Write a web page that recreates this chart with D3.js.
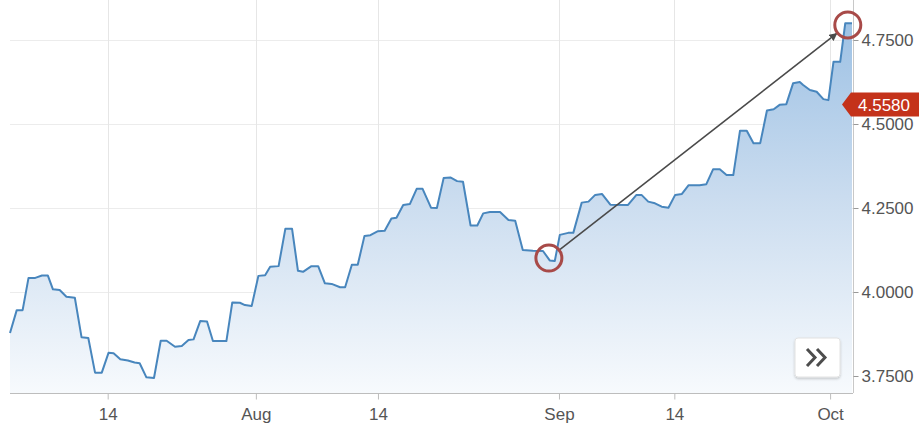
<!DOCTYPE html>
<html>
<head>
<meta charset="utf-8">
<script src="https://cdnjs.cloudflare.com/ajax/libs/d3/7.8.5/d3.min.js"></script>
<style>
body { margin: 0; background: #ffffff; }
svg { display: block; font-family: "Liberation Sans", Arial, sans-serif; }
</style>
</head>
<body>
<div id="chart"></div>
<script>
// session position along the x axis (0 = first point, 100 = last point)
var sessions = [0.0, 0.8, 1.5, 2.2, 3.0, 3.8, 4.5, 5.1, 5.9, 6.7, 7.7, 8.5, 9.3, 10.1, 10.9, 11.7, 12.3, 13.1, 14.0, 14.8,
    15.4, 16.2, 17.1, 17.9, 18.6, 19.6, 20.4, 21.2, 21.8, 22.6, 23.4, 24.1, 25.7, 26.4, 27.3, 27.9, 28.7, 29.5, 30.3, 30.9,
    31.9, 32.7, 33.5, 34.2, 34.8, 35.8, 36.6, 37.4, 38.2, 39.2, 39.8, 40.6, 41.3, 42.1, 42.8, 43.7, 44.5, 45.3, 45.9, 46.7,
    47.5, 48.3, 49.0, 50.0, 50.7, 51.5, 52.3, 53.1, 53.8, 54.7, 55.5, 56.2, 57.0, 58.2, 59.2, 60.0, 60.9, 62.1, 63.3, 64.1,
    64.7, 65.3, 66.3, 66.9, 67.9, 68.7, 69.5, 70.3, 71.3, 73.4, 74.4, 75.0, 75.8, 76.6, 77.4, 78.2, 79.0, 79.8, 80.6, 81.9,
    82.7, 83.5, 84.3, 85.1, 85.9, 86.7, 87.5, 88.3, 89.1, 89.9, 90.7, 91.4, 92.2, 93.0, 93.8, 94.2, 95.0, 95.8, 96.6, 97.2,
    97.8, 98.6, 99.2, 100.0];
var prices = [3.878, 3.946, 3.946, 4.042, 4.042, 4.049, 4.049, 4.008, 4.006, 3.986, 3.983, 3.865, 3.863, 3.760, 3.760, 3.819, 3.818, 3.800, 3.796, 3.790,
    3.788, 3.746, 3.744, 3.855, 3.855, 3.837, 3.839, 3.857, 3.859, 3.914, 3.912, 3.854, 3.854, 3.969, 3.968, 3.961, 3.958, 4.048, 4.050, 4.075,
    4.077, 4.188, 4.188, 4.063, 4.060, 4.077, 4.077, 4.026, 4.024, 4.014, 4.014, 4.081, 4.081, 4.167, 4.169, 4.181, 4.182, 4.219, 4.221, 4.259,
    4.262, 4.307, 4.307, 4.251, 4.250, 4.339, 4.341, 4.330, 4.328, 4.198, 4.198, 4.234, 4.238, 4.238, 4.214, 4.212, 4.125, 4.123, 4.122, 4.094,
    4.092, 4.170, 4.176, 4.176, 4.266, 4.269, 4.289, 4.292, 4.260, 4.259, 4.289, 4.289, 4.269, 4.264, 4.254, 4.251, 4.289, 4.292, 4.318, 4.318,
    4.321, 4.365, 4.365, 4.348, 4.348, 4.480, 4.480, 4.443, 4.443, 4.540, 4.544, 4.557, 4.559, 4.621, 4.625, 4.616, 4.601, 4.596, 4.574, 4.571,
    4.685, 4.685, 4.800, 4.800];

var tickSessions = [11.6, 29.2, 43.7, 65.2, 78.9, 97.4];
var tickLabels = ["14", "Aug", "14", "Sep", "14", "Oct"];
var priceTicks = [3.75, 4.0, 4.25, 4.5, 4.75];
var lastPrice = 4.558;
// the two circled points joined by the arrow
var markSessions = [64.0, 99.5];
var markPrices = [4.101, 4.795];

var W = 919, H = 423;
var plotLeft = 10, plotRight = 853, plotTop = 0, plotBottom = 393;

var data = sessions.map(function(s, i) { return { s: s, p: prices[i] }; });

var x = d3.scaleLinear().domain([0, 100]).range([plotLeft, plotRight - 1]);
var y = d3.scaleLinear().domain([3.75, 4.75]).range([376, 40]);

var svg = d3.select("#chart").append("svg")
    .attr("width", W)
    .attr("height", H);

var defs = svg.append("defs");

var grad = defs.append("linearGradient")
    .attr("id", "fillGrad")
    .attr("gradientUnits", "userSpaceOnUse")
    .attr("x1", 0).attr("y1", plotTop)
    .attr("x2", 0).attr("y2", plotBottom);
grad.append("stop").attr("offset", "0%").attr("stop-color", "#98bee3");
grad.append("stop").attr("offset", "50%").attr("stop-color", "#cadcef");
grad.append("stop").attr("offset", "100%").attr("stop-color", "#f7fafd");

defs.append("marker")
    .attr("id", "arrowHead")
    .attr("viewBox", "0 0 10 10")
    .attr("refX", 9).attr("refY", 5)
    .attr("markerWidth", 8).attr("markerHeight", 8)
    .attr("markerUnits", "userSpaceOnUse")
    .attr("orient", "auto")
    .append("path")
    .attr("d", "M0,0 L10,5 L0,10 z")
    .attr("fill", "#4a4a4a");

var shadow = defs.append("filter").attr("id", "btnShadow")
    .attr("x", "-20%").attr("y", "-20%").attr("width", "140%").attr("height", "150%");
shadow.append("feDropShadow")
    .attr("dx", 0).attr("dy", 1.5).attr("stdDeviation", 1.2)
    .attr("flood-color", "#000").attr("flood-opacity", 0.2);

// grid lines
svg.append("g").selectAll("line")
    .data(priceTicks.slice(1))
    .enter().append("line")
    .attr("x1", plotLeft).attr("x2", plotRight)
    .attr("y1", function(d) { return Math.round(y(d)) + 0.5; })
    .attr("y2", function(d) { return Math.round(y(d)) + 0.5; })
    .attr("stroke", "#ececec");

svg.append("g").selectAll("line")
    .data(tickSessions)
    .enter().append("line")
    .attr("x1", function(d) { return Math.round(x(d)) + 0.5; })
    .attr("x2", function(d) { return Math.round(x(d)) + 0.5; })
    .attr("y1", plotTop).attr("y2", plotBottom)
    .attr("stroke", "#e6e6e6");

// area + line
var area = d3.area()
    .x(function(d) { return x(d.s); })
    .y0(plotBottom)
    .y1(function(d) { return y(d.p); });

var line = d3.line()
    .x(function(d) { return x(d.s); })
    .y(function(d) { return y(d.p); });

svg.append("path")
    .datum(data)
    .attr("d", area)
    .attr("fill", "url(#fillGrad)");

svg.append("path")
    .datum(data)
    .attr("d", line)
    .attr("fill", "none")
    .attr("stroke", "#4886bd")
    .attr("stroke-width", 2)
    .attr("stroke-linejoin", "round");

// right border of the plot
svg.append("line")
    .attr("x1", plotRight + 0.5).attr("x2", plotRight + 0.5)
    .attr("y1", plotTop).attr("y2", plotBottom)
    .attr("stroke", "#c8c8c8");

// bottom axis
var xAxis = d3.axisBottom(x)
    .tickValues(tickSessions)
    .tickFormat(function(d, i) { return tickLabels[i]; })
    .tickSize(6)
    .tickPadding(8)
    .tickSizeOuter(0);

var gx = svg.append("g")
    .attr("transform", "translate(0," + (plotBottom + 0.5) + ")")
    .call(xAxis);
gx.select(".domain").attr("stroke", "#bdbdbd").attr("d", "M" + plotLeft + ",0H" + plotRight);
gx.selectAll(".tick line").attr("stroke", "#bdbdbd");
gx.selectAll("text")
    .attr("fill", "#555")
    .style("font-size", "17px")
    .style("font-family", "\"Liberation Sans\", Arial, sans-serif");

// right price axis
var yAxis = d3.axisRight(y)
    .tickValues(priceTicks)
    .tickFormat(d3.format(".4f"))
    .tickSize(5)
    .tickPadding(3)
    .tickSizeOuter(0);

var gy = svg.append("g")
    .attr("transform", "translate(" + (plotRight + 0.5) + ",0)")
    .call(yAxis);
gy.select(".domain").remove();
gy.selectAll(".tick line").attr("stroke", "#999");
gy.selectAll("text")
    .attr("fill", "#555")
    .style("font-size", "17px")
    .style("font-family", "\"Liberation Sans\", Arial, sans-serif");

// arrow between the circled points
var r = 13;
var cx1 = x(markSessions[0]), cy1 = y(markPrices[0]);
var cx2 = x(markSessions[1]), cy2 = y(markPrices[1]);
var dx = cx2 - cx1, dy = cy2 - cy1, len = Math.sqrt(dx * dx + dy * dy);
var ux = dx / len, uy = dy / len;

svg.append("line")
    .attr("x1", cx1 + ux * r).attr("y1", cy1 + uy * r)
    .attr("x2", cx2 - ux * (r + 1)).attr("y2", cy2 - uy * (r + 1))
    .attr("stroke", "#4a4a4a")
    .attr("stroke-width", 1.6)
    .attr("marker-end", "url(#arrowHead)");

svg.append("g").selectAll("circle")
    .data(markSessions)
    .enter().append("circle")
    .attr("cx", function(d) { return x(d); })
    .attr("cy", function(d, i) { return y(markPrices[i]); })
    .attr("r", r)
    .attr("fill", "none")
    .attr("stroke", "#a84a48")
    .attr("stroke-width", 3);

// last price badge
var by = y(lastPrice);
var bx = plotRight - 11;
svg.append("path")
    .attr("d", "M" + bx + "," + by + "L" + (bx + 9) + "," + (by - 12) + "H" + W + "V" + (by + 12) + "H" + (bx + 9) + "Z")
    .attr("fill", "#c4321a");
svg.append("text")
    .attr("x", bx + 16)
    .attr("y", by + 6)
    .attr("fill", "#ffffff")
    .style("font-size", "17px")
    .text(d3.format(".4f")(lastPrice));

// scroll button
var btn = svg.append("g").attr("transform", "translate(795,338)");
btn.append("rect")
    .attr("width", 45).attr("height", 39)
    .attr("rx", 3)
    .attr("fill", "#ffffff")
    .attr("stroke", "#e2e2e2")
    .attr("filter", "url(#btnShadow)");
btn.append("path")
    .attr("d", "M12,11 L20,19.5 L12,28 M22,11 L30,19.5 L22,28")
    .attr("fill", "none")
    .attr("stroke", "#4d4d4d")
    .attr("stroke-width", 3);
</script>
</body>
</html>
